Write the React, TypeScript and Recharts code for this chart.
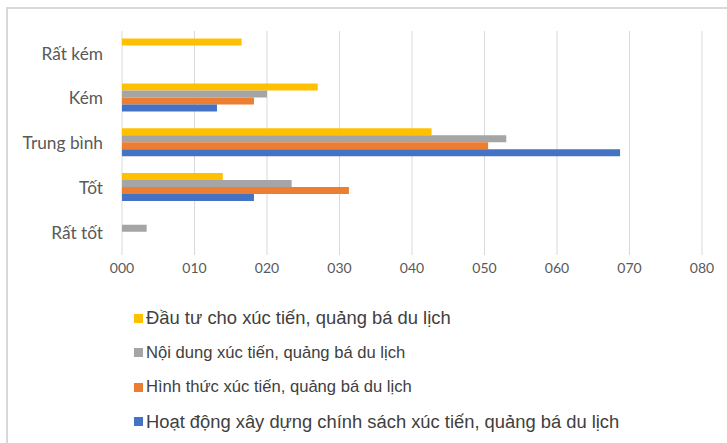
import React from 'react';
import { BarChart, Bar, XAxis, YAxis, CartesianGrid, Legend } from 'recharts';

const categories = ['Rất kém', 'Kém', 'Trung bình', 'Tốt', 'Rất tốt'];
const dauTu = [16.5, 27.0, 42.7, 13.9, 0];
const noiDung = [0, 20.0, 53.0, 23.4, 3.4];
const hinhThuc = [0, 18.2, 50.5, 31.3, 0];
const hoatDong = [0, 13.1, 68.7, 18.2, 0];
const xTicks = [0, 10, 20, 30, 40, 50, 60, 70, 80];

const seriesNames = [
  'Đầu tư cho xúc tiến, quảng bá du lịch',
  'Nội dung xúc tiến, quảng bá du lịch',
  'Hình thức xúc tiến, quảng bá du lịch',
  'Hoạt động xây dựng chính sách xúc tiến, quảng bá du lịch',
];
const seriesKeys = ['dauTu', 'noiDung', 'hinhThuc', 'hoatDong'];
const seriesColors = ['#FFC000', '#A5A5A5', '#ED7D31', '#4472C4'];
const legendFontSizes = [18.4, 16.6, 16.6, 18.35];

const data = categories.map((cat, i) => ({
  cat,
  dauTu: dauTu[i],
  noiDung: noiDung[i],
  hinhThuc: hinhThuc[i],
  hoatDong: hoatDong[i],
}));

const LegendContent = () => (
  <div style={{ fontFamily: '"Liberation Sans", Arial, sans-serif', color: '#404040' }}>
    {seriesNames.map((name, i) => (
      <div key={name} style={{ display: 'flex', alignItems: 'center', height: 34.5 }}>
        <span
          style={{
            display: 'inline-block',
            width: 9,
            height: 9,
            background: seriesColors[i],
            marginRight: 3,
          }}
        />
        <span style={{ fontSize: legendFontSizes[i], whiteSpace: 'nowrap' }}>{name}</span>
      </div>
    ))}
  </div>
);

export default function App() {
  return (
    <div style={{ position: 'absolute', left: 0, top: 0, width: 727, height: 443, background: '#fff', overflow: 'hidden' }}>
      <style>{`body{margin:0}`}</style>
      <div
        style={{
          position: 'absolute',
          left: 6,
          top: 7,
          width: 740,
          height: 460,
          borderTop: '2px solid #d9d9d9',
          borderLeft: '2px solid #d9d9d9',
          boxSizing: 'border-box',
        }}
      />
      <BarChart
        width={727}
        height={443}
        data={data}
        layout="vertical"
        margin={{ top: 31, right: 25, left: 0, bottom: 158 }}
        barCategoryGap="17%"
        barGap={0}
        style={{ position: 'absolute', left: 0, top: 0 }}
      >
        <CartesianGrid horizontal={false} stroke="#d9d9d9" />
        <XAxis
          type="number"
          domain={[0, 80]}
          ticks={xTicks}
          tickFormatter={(v: number) => String(v).padStart(3, '0')}
          axisLine={false}
          tickLine={false}
          height={30}
          tick={{ fill: '#595959', fontSize: 14, fontFamily: 'Lato, sans-serif' }}
          interval={0}
        />
        <YAxis
          type="category"
          dataKey="cat"
          width={122}
          axisLine={false}
          tickLine={false}
          tickMargin={13}
          tick={{ fill: '#595959', fontSize: 17.3, fontFamily: 'Lato, sans-serif' }}
        />
        <Legend
          layout="horizontal"
          verticalAlign="middle"
          align="center"
          content={<LegendContent />}
          wrapperStyle={{ top: 301, left: 134, width: 580, height: 140 }}
        />
        {seriesKeys.map((k, i) => (
          <Bar key={k} dataKey={k} name={seriesNames[i]} fill={seriesColors[i]} isAnimationActive={false} />
        ))}
      </BarChart>
    </div>
  );
}
